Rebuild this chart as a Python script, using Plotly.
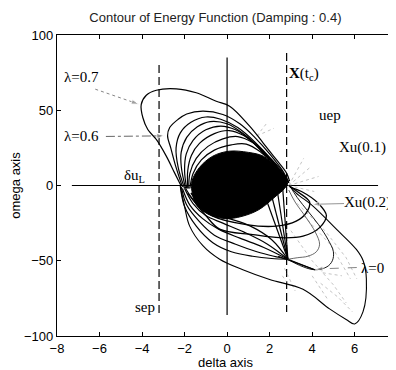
import plotly.graph_objects as go

# ---- reference lines ----
hline_x = [-7.3, 7.1]; hline_y = [0, 0]
vline0_x = [0, 0]; vline0_y = [85, -86]
sep_x = [-3.2, -3.2]; sep_y = [80, -87]
xtc_x = [2.8, 2.8]; xtc_y = [88, -84]

# ---- black dense region ----
blob_x = [2.85, 2.3, 1.7, 1.0, 0.1, -0.67, -1.3, -1.65, -1.65, -1.45, -0.9, -0.1, 0.7, 1.5, 2.3, 2.7, 2.85]
blob_y = [2, 12.8, 19.5, 22, 22.8, 19.5, 12, 3, -4, -12.6, -19, -22, -20.5, -16, -7, -2, 2]

# ---- upper arcs ----
arc07_x = [-2.16, -2.47, -2.86, -3.33, -3.73, -3.96, -4.04, -3.8, -3.33, -2.39, -1.45, -0.51, 0.12, 1.06, 1.69, 2.31, 2.79, 2.94]
arc07_y = [-0.4, 8.4, 19.5, 30.6, 37.2, 45, 53.8, 60, 63.3, 64.2, 61.6, 56, 52.7, 39.4, 28.4, 17.3, 8.4, 2.9]
arc06_x = [-2.1, -2.4, -2.65, -2.8, -2.7, -2.3, -1.9, -1.14, -0.2, 0.6, 1.3, 2.0, 2.6, 2.9]
arc06_y = [-1, 12, 25, 33, 38.5, 44, 47.5, 49.4, 47.2, 41, 32, 21, 10, 2]
arcC_x = [-2.0, -2.3, -2.4, -2.2, -1.7, -1.0, -0.3, 0.5, 1.3, 2.1, 2.9]
arcC_y = [-2, 12, 25, 35, 42, 45.5, 44, 38.5, 29, 17, 2]
arcD_x = [-1.95, -2.15, -2.16, -1.9, -1.4, -0.8, 0.0, 0.8, 1.6, 2.3, 2.9]
arcD_y = [-2, 12, 22, 32, 39, 42.5, 41, 34, 24, 13, 2]
arcE_x = [-1.9, -2.0, -1.92, -1.6, -1.0, -0.3, 0.4, 1.1, 1.8, 2.4, 2.9]
arcE_y = [-2, 10, 21, 30, 37, 39.5, 37, 30, 20, 11, 2]
arcF_x = [-1.85, -1.85, -1.68, -1.3, -0.6, 0.1, 0.8, 1.5, 2.1, 2.9]
arcF_y = [-2, 10, 20, 28, 34.5, 36.5, 33, 25, 16, 2]
arcG_x = [-1.8, -1.75, -1.45, -0.9, -0.2, 0.5, 1.2, 1.9, 2.5, 2.9]
arcG_y = [-2, 8, 18, 26, 31, 32.5, 28.5, 20, 11, 2]
arcH_x = [-1.75, -1.6, -1.21, -0.6, 0.2, 0.9, 1.6, 2.3, 2.9]
arcH_y = [-2, 8, 17, 23.5, 27, 27.5, 22, 13, 2]

# ---- outer lower loop (lambda = 0) ----
loop0_x = [-2.2, -2.0, -1.76, -1.14, -0.35, 0.74, 2.0, 3.57, 4.82, 5.6, 6.0, 6.39, 6.55, 6.4, 6.08, 5.14, 4.04, 3.25, 2.94]
loop0_y = [-0.4, -14, -27, -40, -49, -56, -62.5, -69, -82, -89, -92, -84, -62, -50, -42.5, -29, -13.7, -5, 0]

# ---- lower arcs to convergence point ----
lb0_x = [-2.2, -2.0, -1.45, -0.67, 0.2, 1.2, 2.1, 2.86]
lb0_y = [-0.4, -14, -27, -38, -44, -47, -48.5, -49]
lb1_x = [-2.15, -1.9, -1.3, -0.6, 0.4, 1.4, 2.2, 2.86]
lb1_y = [-1, -13, -24, -33, -39, -44, -47, -49]
lb2_x = [-2.1, -1.75, -1.15, -0.4, 0.6, 1.7, 2.86]
lb2_y = [-2, -13, -22, -29, -35, -41, -49]
lb3_x = [-2.0, -1.6, -1.0, -0.2, 0.8, 1.9, 2.86]
lb3_y = [-2, -12, -20, -25, -31, -39, -49]
lb4_x = [-1.95, -1.5, -0.8, 0.1, 1.1, 2.1, 2.86]
lb4_y = [-2, -11, -18, -22, -27, -36, -49]
diag_x = [1.5, 2.86, None, 1.9, 2.86, None, 2.3, 2.86, None, 2.6, 2.86, None, 2.86, 4.12, None, 2.4, 4.12]
diag_y = [4, -49, None, 4, -49, None, 2, -49, None, 1, -49, None, -49, -56, None, -47, -56]

# ---- inner closed arcs reaching into lower right ----
arcI_x = [-1.7, -1.2, -0.67, 0.9, 2.31, 3.25, 3.73, 3.88, 3.3, 2.9]
arcI_y = [-5, -14, -20.4, -26, -27, -23.7, -18, -11, -4, 0]
arcII_x = [-1.85, -1.0, -0.35, 1.21, 2.47, 3.57, 4.35, 4.67, 4.3, 3.5, 2.95]
arcII_y = [-5, -20, -29, -32.6, -34.7, -33.7, -28, -20, -12, -4, -1]

# ---- lower right loops ----
lr1_x = [2.94, 3.3, 3.8, 4.3, 4.75, 5.0, 4.95, 4.7, 4.12, 3.4, 2.86]
lr1_y = [0, -8, -17, -26, -36, -44, -50, -54, -56, -53, -49]
lr2_x = [2.9, 3.2, 3.7, 4.15, 4.35, 4.2, 3.8, 3.3, 2.86]
lr2_y = [-3, -11, -21, -31, -39, -44, -47, -48, -49]

# ---- faint gray strokes ----
gray_x = [2.9, 3.9, None, 2.9, 3.6, None, 2.9, 4.3, None, 2.9, 4.1, None, 1.4, 2.2, None, 1.4, 1.9, None,
          3.3, 4.6, 5.6, 6.1, None, 3.6, 4.9, 5.8, None, 4.0, 4.7, None, 2.6, 2.9, None,
          3.0, 4.0, 5.0, 5.6, None, 4.4, 5.2, 5.9, None, 2.7, 3.2, None, 4.5, 5.4]
gray_y = [0, 12, None, 0, 18, None, 0, 6, None, 0, -4, None, 33, 38, None, 33, 42, None,
          -12, -30, -48, -62, None, -20, -40, -62, None, -60, -75, None, -60, -66, None,
          -30, -50, -66, -78, None, -65, -74, -84, None, -55, -70, None, -58, -60]

# ---- arrows (tail -> tip) ----
a07_x = [-6.2, -4.15]; a07_y = [64, 54]
a06_x = [-5.7, -2.95]; a06_y = [32.6, 33]
axu2_x = [5.5, 4.0]; axu2_y = [-12, -12.5]
al0_x = [6.1, 4.15]; al0_y = [-54.5, -55.5]

fig = go.Figure()

def line(x, y, color="black", width=1.1, dash="solid", shape="spline"):
    fig.add_trace(go.Scatter(x=x, y=y, mode="lines", showlegend=False, hoverinfo="skip",
                             line=dict(color=color, width=width, dash=dash, shape=shape)))

def arrow(x, y, color, dash):
    fig.add_trace(go.Scatter(x=x, y=y, mode="lines+markers", showlegend=False, hoverinfo="skip",
                             line=dict(color=color, width=0.9, dash=dash),
                             marker=dict(symbol="arrow", angleref="previous", size=[0, 8], color=color)))

for gx, gy in [(hline_x, hline_y), (vline0_x, vline0_y)]:
    line(gx, gy, width=1.2, shape="linear")
line(sep_x, sep_y, dash="8px,4px", width=1.2, shape="linear")
line(xtc_x, xtc_y, dash="8px,4px", width=1.2, shape="linear")

line(gray_x, gray_y, color="#aaaaaa", width=0.7, dash="dot", shape="linear")

fig.add_trace(go.Scatter(x=blob_x, y=blob_y, mode="lines", fill="toself", fillcolor="black",
                         line=dict(color="black", width=1, shape="spline"), showlegend=False, hoverinfo="skip"))

for ax_, ay_ in [(arc07_x, arc07_y), (arc06_x, arc06_y), (arcC_x, arcC_y), (arcD_x, arcD_y),
                 (arcE_x, arcE_y), (arcF_x, arcF_y), (arcG_x, arcG_y), (arcH_x, arcH_y)]:
    line(ax_, ay_, width=1.2)
line(loop0_x, loop0_y, width=1.1)
for ax_, ay_ in [(lb0_x, lb0_y), (lb1_x, lb1_y), (lb2_x, lb2_y), (lb3_x, lb3_y), (lb4_x, lb4_y)]:
    line(ax_, ay_, width=1.2)
line(arcI_x, arcI_y, width=1.4)
line(arcII_x, arcII_y, width=1.3)
line(diag_x, diag_y, width=1.2, shape="linear")
line(lr1_x, lr1_y, width=0.9)
line(lr2_x, lr2_y, width=0.8, color="#444444")

arrow(a07_x, a07_y, "#777777", "dot")
arrow(a06_x, a06_y, "#555555", "dashdot")
arrow(axu2_x, axu2_y, "#888888", "solid")
arrow(al0_x, al0_y, "#777777", "dash")

serif = dict(family="Liberation Serif, Times New Roman, serif", size=15, color="black")
labels = [
    (-6.85, 72, "λ=0.7"), (-6.85, 32.6, "λ=0.6"), (-4.35, 6, "δu<sub>L</sub>"),
    (3.6, 73.8, "<b>X</b>(t<sub>c</sub>)"), (4.82, 47, "uep"), (6.38, 25, "Xu(0.1)"),
    (6.6, -11.5, "Xu(0.2)"), (6.85, -55, "λ=0"), (-3.84, -81, "sep"),
]
for lx, ly, lt in labels:
    fig.add_annotation(x=lx, y=ly, text=lt, showarrow=False, font=serif, xanchor="center", yanchor="middle")

sans = "Liberation Sans, Arial, sans-serif"
# the page body adds an 8px offset, so the figure is sized 8px smaller than the window
fig.update_layout(
    width=388, height=362,
    margin=dict(l=49, r=2, t=27, b=34, autoexpand=False),
    paper_bgcolor="white", plot_bgcolor="white",
    title=dict(text="Contour of Energy Function (Damping : 0.4)", xref="paper", x=0.47, xanchor="center",
               y=0.975, yanchor="middle", font=dict(family=sans, size=13, color="#222222")),
    font=dict(family=sans, size=13, color="black"),
    xaxis=dict(range=[-8, 7.85], tickvals=[-8, -6, -4, -2, 0, 2, 4, 6], showgrid=False, zeroline=False,
               automargin=False,
               showline=True, linecolor="black", linewidth=1.3, mirror="ticks", ticks="inside", ticklen=4,
               tickcolor="black", title=dict(text="delta axis", standoff=2, font=dict(size=13))),
    yaxis=dict(range=[-100, 100], tickvals=[-100, -50, 0, 50, 100], showgrid=False, zeroline=False,
               automargin=False,
               showline=True, linecolor="black", linewidth=1.3, mirror="ticks", ticks="inside", ticklen=4,
               tickcolor="black", title=dict(text="omega axis", standoff=1, font=dict(size=13))),
)

fig.write_html("out.html")
